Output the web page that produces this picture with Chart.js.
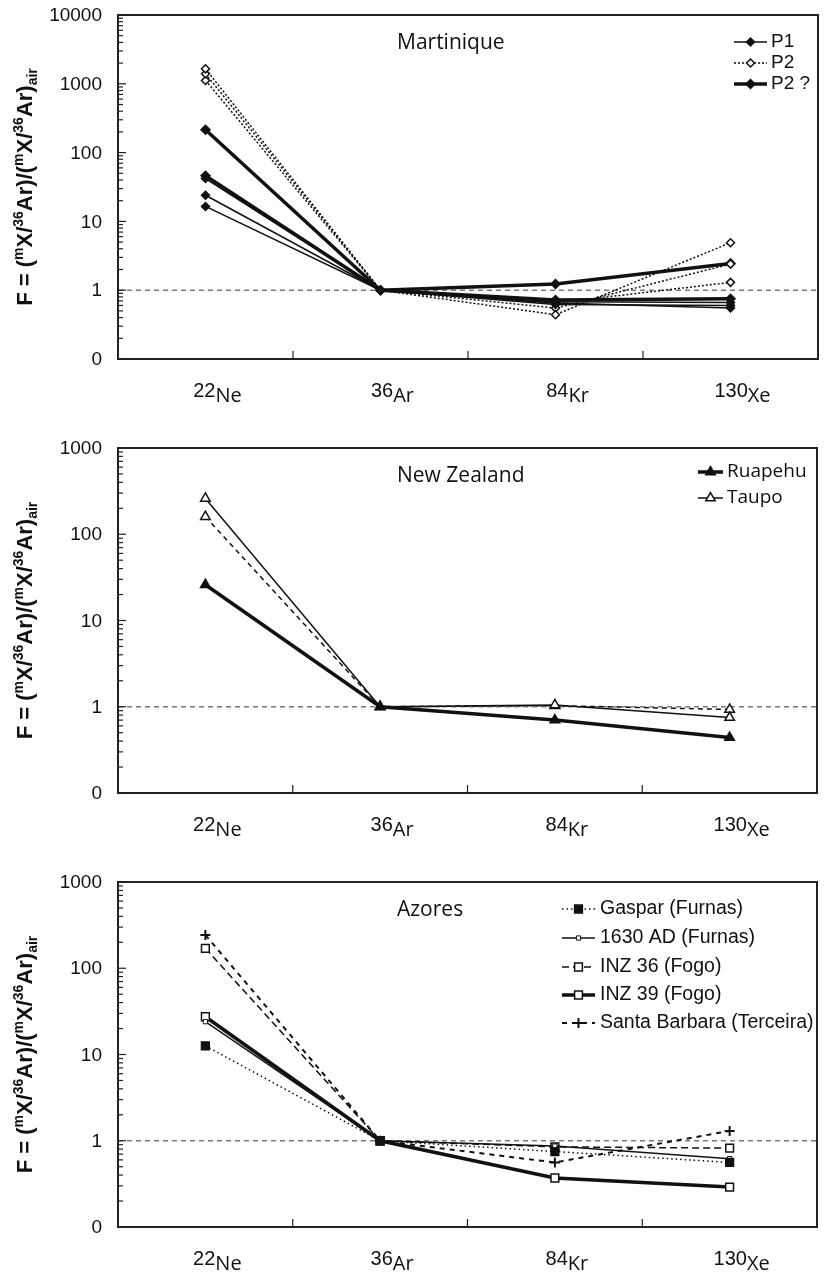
<!DOCTYPE html>
<html lang="en">
<head>
  <meta charset="UTF-8">
  <title>F = (mX/36Ar)/(mX/36Ar)air — Martinique, New Zealand, Azores</title>
  <script src="https://cdn.jsdelivr.net/npm/chart.js"></script>
  <style>
body { margin: 0; background: #fff; }
.panel { position: absolute; left: 0; width: 824px; }
  </style>
</head>
<body>

  <div class="panel" style="top:0;height:410px"><canvas id="martinique"></canvas></div>
  <div class="panel" style="top:420px;height:424px"><canvas id="newzealand"></canvas></div>
  <div class="panel" style="top:854px;height:420px"><canvas id="azores"></canvas></div>

  <script>
    // isotopes on the x axis
    const isoMass = ['22', '36', '84', '130'];
    const isoElem = ['Ne', 'Ar', 'Kr', 'Xe'];
    const isotopes = isoMass.map((m, i) => m + isoElem[i]);

    // Martinique
    const p1A = [42, 1, 0.68, 0.66];
    const p1B = [24, 1, 0.62, 0.60];
    const p1C = [16.5, 1, 0.65, 0.55];
    const p2A = [1650, 1, 0.44, 4.9];
    const p2B = [1400, 1, 0.55, 2.4];
    const p2C = [1120, 1, 0.65, 1.3];
    const p2qA = [215, 1, 1.23, 2.45];
    const p2qB = [46, 1, 0.72, 0.75];

    // New Zealand
    const ruapehu = [26, 1, 0.70, 0.44];
    const taupoA = [260, 1, 1.05, 0.75];
    const taupoB = [160, 1, 1.03, 0.93];

    // Azores
    const gaspar = [12.6, 1, 0.75, 0.56];
    const ad1630 = [24, 1, 0.87, 0.62];
    const inz36 = [170, 1, 0.85, 0.82];
    const inz39 = [27.4, 1, 0.37, 0.29];
    const santaBarbara = [243, 1, 0.56, 1.3];

    // y axis tick labels (0.1 is printed as "0" in the original)
    const tickValuesTop = [0.1, 1, 10, 100, 1000, 10000];
    const tickLabelsTop = ['0', '1', '10', '100', '1000', '10000'];
    const tickValuesLow = [0.1, 1, 10, 100, 1000];
    const tickLabelsLow = ['0', '1', '10', '100', '1000'];

    const INK = '#111';
    const SANS = '"Liberation Sans", Arial, sans-serif';
    const OPEN = '"Open Sans", sans-serif';

    // draws a run of text pieces (normal / sup / sub) centred on x
    function drawRich(ctx, parts, x, y, fonts) {
      let w = 0;
      parts.forEach(([t, k]) => { ctx.font = fonts[k].font; w += ctx.measureText(t).width; });
      let cx = x - w / 2;
      ctx.textAlign = 'left';
      ctx.textBaseline = 'alphabetic';
      parts.forEach(([t, k]) => {
        ctx.font = fonts[k].font;
        ctx.fillText(t, cx, y + fonts[k].dy);
        cx += ctx.measureText(t).width;
      });
    }

    function drawMarker(ctx, ds, x, y) {
      const opts = { pointStyle: ds.pointStyle, rotation: 0, radius: ds.pointRadius, borderWidth: ds.pointBorderWidth };
      ctx.save();
      ctx.fillStyle = ds.pointBackgroundColor;
      ctx.strokeStyle = ds.pointBorderColor;
      ctx.lineWidth = ds.pointBorderWidth;
      ctx.setLineDash([]);
      Chart.helpers.drawPoint(ctx, opts, x, y);
      ctx.restore();
    }

    const yTitle = [['F = (', 'n'], ['m', 'sup'], ['X/', 'n'], ['36', 'sup'], ['Ar)/(', 'n'],
                    ['m', 'sup'], ['X/', 'n'], ['36', 'sup'], ['Ar)', 'n'], ['air', 'sub']];
    const yTitleFonts = {
      n: { font: 'bold 22px ' + SANS, dy: 0 },
      sup: { font: 'bold 14px ' + SANS, dy: -9 },
      sub: { font: 'bold 14px ' + SANS, dy: 5 }
    };
    const xLabelFonts = {
      sup: { font: '20px ' + SANS, dy: 0 },
      n: { font: '20px ' + OPEN, dy: 5 }
    };

    const frame = {
      id: 'frame',
      beforeDatasetsDraw(chart) {
        const { ctx, chartArea: a } = chart;
        const y1 = chart.scales.y.getPixelForValue(1);
        ctx.save();
        ctx.strokeStyle = '#7a7a7a';
        ctx.lineWidth = 1.5;
        ctx.setLineDash([5, 4]);
        ctx.beginPath();
        ctx.moveTo(a.left, y1);
        ctx.lineTo(a.right, y1);
        ctx.stroke();
        ctx.restore();
      },
      afterDraw(chart, args, opts) {
        const { ctx, chartArea: a } = chart;
        const xs = chart.scales.x, ys = chart.scales.y;
        ctx.save();

        // box
        ctx.strokeStyle = '#222';
        ctx.lineWidth = 2;
        ctx.strokeRect(a.left, a.top, a.right - a.left, a.bottom - a.top);

        // inner tick marks on the log axis
        ctx.lineWidth = 1.2;
        ys.ticks.forEach(t => {
          const y = ys.getPixelForValue(t.value);
          const major = Math.abs(Math.log10(t.value) - Math.round(Math.log10(t.value))) < 1e-6;
          ctx.beginPath();
          ctx.moveTo(a.left, y);
          ctx.lineTo(a.left + (major ? 8 : 5), y);
          ctx.stroke();
        });
        // tick marks between categories on the bottom axis
        for (let i = 1; i < isotopes.length; i++) {
          const x = (xs.getPixelForValue(i - 1) + xs.getPixelForValue(i)) / 2;
          ctx.beginPath();
          ctx.moveTo(x, a.bottom);
          ctx.lineTo(x, a.bottom - 8);
          ctx.stroke();
        }

        ctx.fillStyle = INK;
        // y tick labels
        ctx.font = '19px ' + SANS;
        ctx.textAlign = 'right';
        ctx.textBaseline = 'middle';
        opts.tickValues.forEach((v, i) => {
          ctx.fillText(opts.tickLabels[i], a.left - 16, ys.getPixelForValue(v) + 1);
        });

        // isotope labels
        isotopes.forEach((lab, i) => {
          const x = xs.getPixelForValue(i) + 12;
          drawRich(ctx, [[isoMass[i], 'sup'], [isoElem[i], 'n']], x, a.bottom + 38, xLabelFonts);
        });

        // rotated axis title
        ctx.save();
        ctx.translate(32, (a.top + a.bottom) / 2);
        ctx.rotate(-Math.PI / 2);
        drawRich(ctx, yTitle, 0, 0, yTitleFonts);
        ctx.restore();

        // panel title
        ctx.font = '21px ' + OPEN;
        ctx.textAlign = 'left';
        ctx.textBaseline = 'middle';
        ctx.fillText(opts.title, 397, a.top + 28);

        // legend
        const lg = opts.legend;
        lg.items.forEach((idx, r) => {
          const ds = chart.data.datasets[idx];
          const y = a.top + lg.rows[r];
          ctx.save();
          ctx.strokeStyle = ds.borderColor;
          ctx.lineWidth = ds.borderWidth;
          ctx.setLineDash(ds.borderDash || []);
          ctx.beginPath();
          ctx.moveTo(lg.x0, y);
          ctx.lineTo(lg.x1, y);
          ctx.stroke();
          ctx.restore();
          drawMarker(ctx, ds, (lg.x0 + lg.x1) / 2, y);
          ctx.fillStyle = INK;
          ctx.font = lg.font;
          ctx.textAlign = 'left';
          ctx.textBaseline = 'middle';
          ctx.fillText(ds.label, lg.tx, y);
        });
        ctx.restore();
      }
    };

    function series(label, data, style) {
      return Object.assign({
        label, data,
        borderColor: INK, pointBorderColor: INK,
        borderWidth: 1.5, pointBorderWidth: 1.5,
        tension: 0, fill: false
      }, style);
    }

    function makeChart(id, datasets, tickValues, tickLabels, xHeight, topPad, plugOpts) {
      const minV = tickValues[0], maxV = tickValues[tickValues.length - 1];
      plugOpts.tickValues = tickValues;
      plugOpts.tickLabels = tickLabels;
      return new Chart(document.getElementById(id), {
        type: 'line',
        data: { labels: isotopes, datasets },
        plugins: [frame],
        options: {
          responsive: true,
          maintainAspectRatio: false,
          animation: false,
          events: [],
          layout: { padding: { top: topPad, right: 2, left: 0, bottom: 0 } },
          plugins: {
            legend: { display: false },
            tooltip: { enabled: false },
            frame: plugOpts
          },
          scales: {
            x: {
              type: 'category',
              offset: true,
              grid: { display: false, drawTicks: false },
              border: { display: false },
              ticks: { display: false },
              afterFit(s) { s.height = xHeight; }
            },
            y: {
              type: 'logarithmic',
              min: minV,
              max: maxV,
              grid: { display: false, drawTicks: false },
              border: { display: false },
              ticks: { display: false },
              afterBuildTicks(s) {
                const out = [];
                for (let e = Math.round(Math.log10(minV)); e < Math.round(Math.log10(maxV)); e++) {
                  for (let k = 1; k <= 9; k++) out.push({ value: Number((k * Math.pow(10, e)).toPrecision(6)) });
                }
                out.push({ value: maxV });
                s.ticks = out;
              },
              afterFit(s) { s.width = 118; }
            }
          }
        }
      });
    }

    // Martinique
    const P1 = { pointStyle: 'rectRot', pointRadius: 4, pointBackgroundColor: INK, borderWidth: 1.5 };
    const P2 = { pointStyle: 'rectRot', pointRadius: 4, pointBackgroundColor: '#fff', borderWidth: 1.5, borderDash: [2, 2] };
    const P2Q = { pointStyle: 'rectRot', pointRadius: 4.5, pointBackgroundColor: INK, borderWidth: 3.5 };
    makeChart('martinique', [
      series('P1', p1A, P1),
      series('P1', p1B, P1),
      series('P1', p1C, P1),
      series('P2', p2A, P2),
      series('P2', p2B, P2),
      series('P2', p2C, P2),
      series('P2 ?', p2qA, P2Q),
      series('P2 ?', p2qB, P2Q)
    ], tickValuesTop, tickLabelsTop, 51, 15, {
      title: 'Martinique',
      legend: { items: [0, 3, 6], rows: [27, 48, 69], x0: 734, x1: 767, tx: 771, font: '19px ' + SANS }
    });

    // New Zealand
    makeChart('newzealand', [
      series('Ruapehu', ruapehu, { pointStyle: 'triangle', pointRadius: 5.5, pointBackgroundColor: INK, borderWidth: 3.5 }),
      series('Taupo', taupoA, { pointStyle: 'triangle', pointRadius: 5.5, pointBackgroundColor: '#fff', borderWidth: 1.5 }),
      series('Taupo', taupoB, { pointStyle: 'triangle', pointRadius: 5.5, pointBackgroundColor: '#fff', borderWidth: 1.5, borderDash: [5, 4] })
    ], tickValuesLow, tickLabelsLow, 51, 28, {
      title: 'New Zealand',
      legend: { items: [0, 1], rows: [24, 50], x0: 698, x1: 723, tx: 727, font: '19px ' + OPEN }
    });

    // Azores
    makeChart('azores', [
      series('Gaspar (Furnas)', gaspar, { pointStyle: 'rect', pointRadius: 5.5, pointBackgroundColor: INK, borderWidth: 1.5, borderDash: [1.5, 3] }),
      series('1630 AD (Furnas)', ad1630, { pointStyle: 'rect', pointRadius: 3, pointBackgroundColor: '#fff', pointBorderWidth: 1, borderWidth: 1.5 }),
      series('INZ 36 (Fogo)', inz36, { pointStyle: 'rect', pointRadius: 5.5, pointBackgroundColor: '#fff', borderWidth: 1.5, borderDash: [7, 4] }),
      series('INZ 39 (Fogo)', inz39, { pointStyle: 'rect', pointRadius: 5.5, pointBackgroundColor: '#fff', borderWidth: 3.5 }),
      series('Santa Barbara (Terceira)', santaBarbara, { pointStyle: 'cross', pointRadius: 5, pointBackgroundColor: INK, pointBorderWidth: 2, borderWidth: 2, borderDash: [5, 5] })
    ], tickValuesLow, tickLabelsLow, 47, 28, {
      title: 'Azores',
      legend: { items: [0, 1, 2, 3, 4], rows: [27, 56, 85, 113, 141], x0: 562, x1: 595, tx: 600, font: '19.5px ' + SANS }
    });
  </script>

</body>
</html>
